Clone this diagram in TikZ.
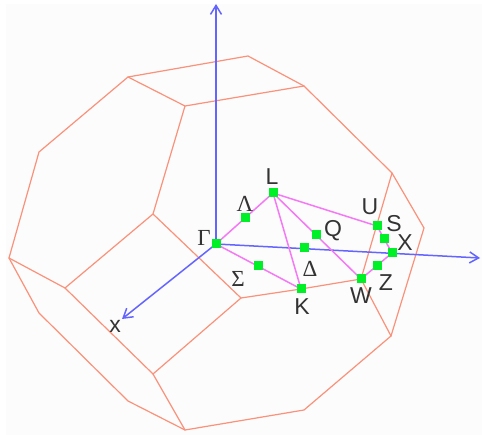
\documentclass[tikz,border=0pt]{standalone}
\usepackage{fontspec}
\setmainfont{Liberation Sans}
\newfontfamily\greekfont{Liberation Serif}
\usetikzlibrary{arrows.meta}

\definecolor{zonecolor}{RGB}{250,145,122}
\definecolor{axiscolor}{RGB}{100,100,255}
\definecolor{pathcolor}{RGB}{245,120,245}
\definecolor{pointcolor}{RGB}{0,240,40}
\definecolor{pagecolor}{RGB}{252,252,252}

\tikzset{
    zoneedge/.style={draw=zonecolor, line width=1.2pt},
    axisline/.style={draw=axiscolor, line width=1.5pt, -{Straight Barb[length=9pt,width=11pt]}},
    pathline/.style={draw=pathcolor, line width=1.5pt},
    kpoint/.style={fill=pointcolor, minimum size=9pt, inner sep=0pt, outer sep=0pt},
    kname/.style={text=black!80, inner sep=0pt, font=\fontsize{23}{27}\selectfont},
    greekname/.style={text=black!80, inner sep=0pt, font=\fontsize{23}{27}\selectfont\greekfont}
}

\begin{document}
\begin{tikzpicture}[x=1pt, y=-1pt, line cap=round, line join=round]

    % Fondo
    \useasboundingbox (0,0) rectangle (482,435);
    \fill[pagecolor] (6,4) rectangle (482,435);

    % Vertices de la zona
    \coordinate (za) at (128,77);
    \coordinate (zb) at (39,152);
    \coordinate (zc) at (9,258);
    \coordinate (zd) at (39,313);
    \coordinate (ze) at (128,401);
    \coordinate (zf) at (185,430);
    \coordinate (zg) at (304,410);
    \coordinate (zh) at (391,336);
    \coordinate (zi) at (424,228);
    \coordinate (zj) at (392,173);
    \coordinate (zk) at (304,86);
    \coordinate (zm) at (248,56);
    \coordinate (zn) at (185,106);
    \coordinate (zp) at (153,214);
    \coordinate (zq) at (65,288);
    \coordinate (zr) at (241,298);
    \coordinate (zs) at (153,374);

    % Puntos de alta simetria
    \coordinate (Gammac) at (216,244);
    \coordinate (Lc) at (273,193);
    \coordinate (Uc) at (377,226);
    \coordinate (Xc) at (392,253);
    \coordinate (Wc) at (361,279);
    \coordinate (Kc) at (301,289);

    % Borde exterior y caras
    \draw[zoneedge] (za) -- (zb) -- (zc) -- (zd) -- (ze) -- (zf) -- (zg) -- (zh)
        -- (zi) -- (zj) -- (zk) -- (zm) -- cycle;
    \draw[zoneedge] (za) -- (zn) -- (zk);
    \draw[zoneedge] (zn) -- (zp) -- (zq) -- (zc);
    \draw[zoneedge] (zp) -- (zr) -- (Kc) -- (Wc) -- (zh);
    \draw[zoneedge] (zq) -- (zs) -- (zr);
    \draw[zoneedge] (zs) -- (zf);
    \draw[zoneedge] (Wc) -- (zj);

    % Ejes
    \coordinate (axisz) at (216,4);
    \coordinate (axisy) at (480,258);
    \coordinate (axisx) at (122,319);
    \draw[axisline] (Gammac) -- (axisz);
    \draw[axisline] (Gammac) -- (axisy);
    \draw[axisline] (Gammac) -- (axisx);

    % Camino en la zona
    \draw[pathline] (Gammac) -- (Lc) -- (Uc) -- (Xc) -- (Wc) -- (Lc) -- (Kc) -- cycle;

    % Puntos
    \node[kpoint] (Gamma) at (Gammac) {};
    \node[kpoint] (Lambda) at (245,218) {};
    \node[kpoint] (L) at (Lc) {};
    \node[kpoint] (U) at (Uc) {};
    \node[kpoint] (S) at (384,239) {};
    \node[kpoint] (X) at (Xc) {};
    \node[kpoint] (Z) at (377,266) {};
    \node[kpoint] (W) at (Wc) {};
    \node[kpoint] (K) at (Kc) {};
    \node[kpoint] (Sigma) at (258,266) {};
    \node[kpoint] (Delta) at (304,248) {};
    \node[kpoint] (Q) at (316,235) {};

    % Etiquetas
    \node[greekname] (labelGamma) at (204,238) {Γ};
    \node[greekname] (labelLambda) at (245,204) {Λ};
    \node[greekname] (labelSigma) at (238,279) {Σ};
    \node[greekname] (labelDelta) at (310,269) {Δ};
    \node[kname] (labelL) at (272,177) {L};
    \node[kname] (labelU) at (370,207) {U};
    \node[kname] (labelS) at (394,224) {S};
    \node[kname] (labelX) at (405,243) {X};
    \node[kname] (labelQ) at (333,231) {Q};
    \node[kname] (labelK) at (302,307) {K};
    \node[kname] (labelW) at (361,296) {W};
    \node[kname] (labelZ) at (386,283) {Z};
    \node[kname] (labelx) at (115,326) {x};

\end{tikzpicture}
\end{document}
